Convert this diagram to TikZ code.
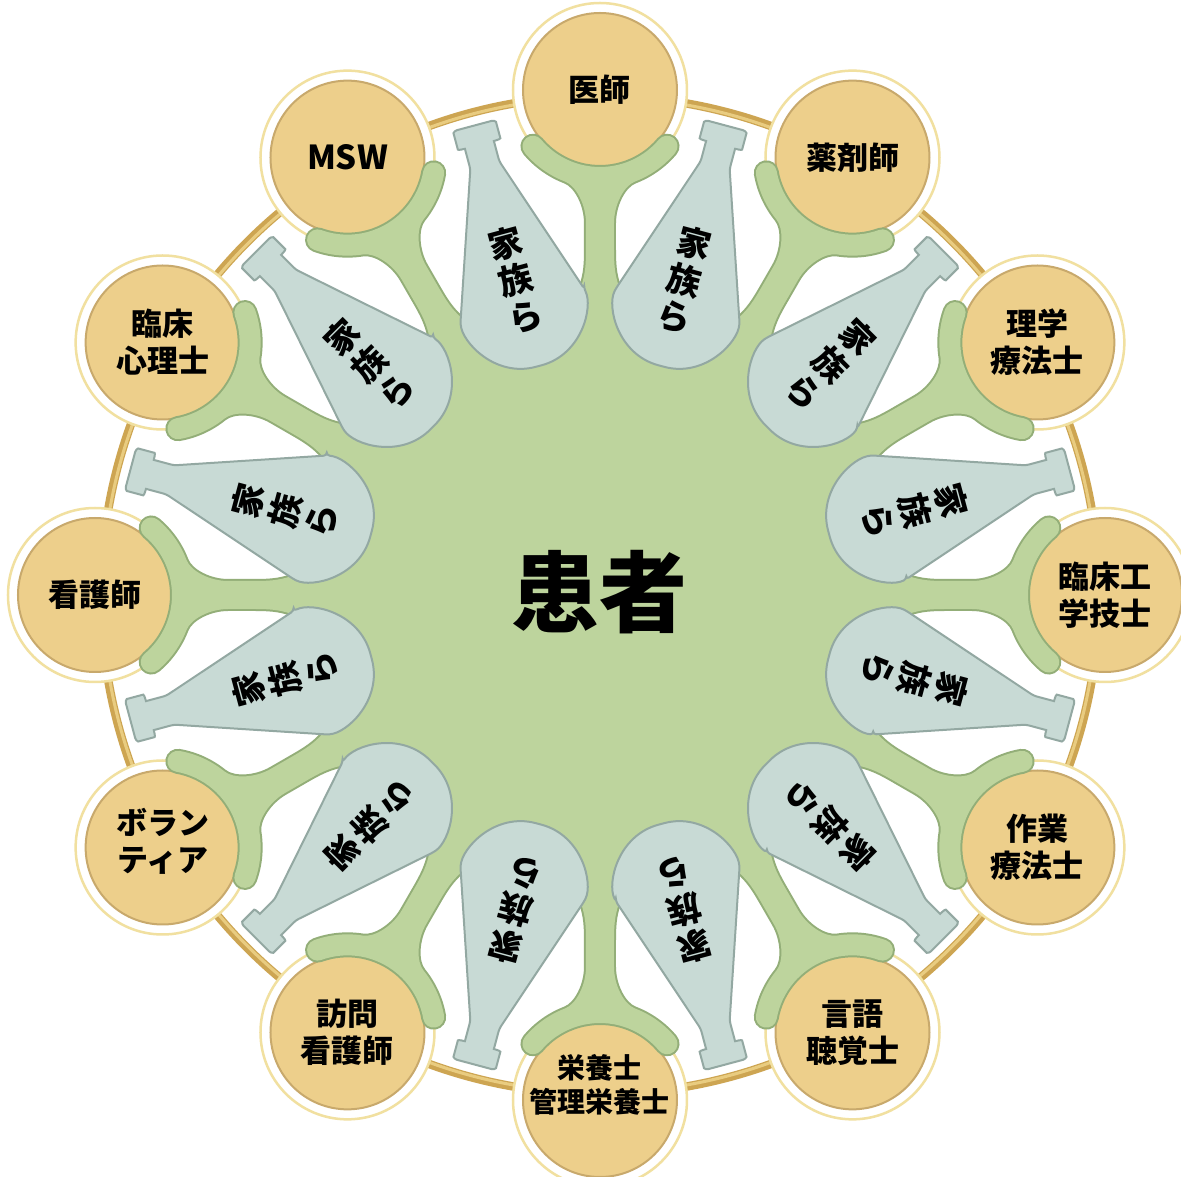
\documentclass[tikz,border=0pt]{standalone}
\usepackage{fontspec}
\newfontfamily\jp{Noto Sans CJK JP}
\definecolor{tanfill}{HTML}{EDCF8B}
\definecolor{tanedge}{HTML}{C8A96C}
\definecolor{paleyellow}{HTML}{F1E0A0}
\definecolor{ringdark}{HTML}{CDA552}
\definecolor{ringlight}{HTML}{E9CC80}
\definecolor{greenfill}{HTML}{BDD49D}
\definecolor{greenedge}{HTML}{93AE78}
\definecolor{bottlefill}{HTML}{C8DAD5}
\definecolor{bottleedge}{HTML}{93A8A2}
\tikzset{
  proftext/.style={font=\jp\bfseries\fontsize{31}{37}\selectfont, align=center, inner sep=0pt, text=black},
  famtext/.style={font=\jp\bfseries\fontsize{34}{38}\selectfont, align=center, inner sep=0pt, text=black},
  profcircle/.style={circle, minimum size=154pt, inner sep=0pt, fill=tanfill, draw=tanedge, line width=2pt},
  bottleshape/.style={fill=bottlefill, draw=bottleedge, line width=2pt, rounded corners=3pt}
}
\begin{document}
\begin{tikzpicture}[x=1pt,y=1pt]
\useasboundingbox (-600,-582) rectangle (581,595);
\fill[white] (-600,-582) rectangle (581,595);
% golden ring
\draw[ringdark, line width=8.5pt] (0,0) circle[radius=499];
\draw[ringlight, line width=3pt] (0,0) circle[radius=497.5];
% profession circles
\foreach \i in {0,...,11} {
  \pgfmathsetmacro\a{90-30*\i}
  \fill[white, draw=paleyellow, line width=2.5pt] (\a:505) circle[radius=87];
  \node[profcircle] (p\i) at (\a:505) {};
}
% green arms: outline pass
\foreach \i in {0,...,11} {
  \pgfmathsetmacro\a{90-30*\i}
  \draw[greenedge, line width=4pt, rotate=\a] (0,-45) -- (270,-45) .. controls (300,-16) and (320,-14) .. (345,-14) -- (372,-14) .. controls (390,-14) and (409.2,-23.8) .. (413.45,-34.96) arc[start angle=200.9, end angle=230, radius=98] arc[start angle=230, end angle=410, radius=10.5] arc[start angle=230, end angle=130, radius=77] arc[start angle=310, end angle=490, radius=10.5] arc[start angle=130, end angle=159.1, radius=98] .. controls (409.2,23.8) and (390,14) .. (372,14) -- (345,14) .. controls (320,14) and (300,16) .. (270,45) -- (0,45) -- cycle;
}
% green fill pass
\fill[greenfill] (0,0) circle[radius=300];
\foreach \i in {0,...,11} {
  \pgfmathsetmacro\a{90-30*\i}
  \fill[greenfill, rotate=\a] (0,-45) -- (270,-45) .. controls (300,-16) and (320,-14) .. (345,-14) -- (372,-14) .. controls (390,-14) and (409.2,-23.8) .. (413.45,-34.96) arc[start angle=200.9, end angle=230, radius=98] arc[start angle=230, end angle=410, radius=10.5] arc[start angle=230, end angle=130, radius=77] arc[start angle=310, end angle=490, radius=10.5] arc[start angle=130, end angle=159.1, radius=98] .. controls (409.2,23.8) and (390,14) .. (372,14) -- (345,14) .. controls (320,14) and (300,16) .. (270,45) -- (0,45) -- cycle;
}
% family bottles
\foreach \i in {0,...,11} {
  \pgfmathsetmacro\b{105-30*\i}
  \path[bottleshape, rotate=\b] (300,-64) -- (445,-15) -- (463,-15) .. controls (466,-15) and (466,-22) .. (470,-22) -- (481,-22) .. controls (485,-22) and (486,-19) .. (486,-15) -- (486,15) .. controls (486,19) and (485,22) .. (481,22) -- (470,22) .. controls (466,22) and (466,15) .. (463,15) -- (445,15) -- (300,64) .. controls (280,68) and (237,45) .. (237,0) .. controls (237,-45) and (280,-68) .. (300,-64) -- cycle;
  \pgfmathsetmacro\r{\b-90}
  \node[famtext, rotate=\r] (f\i) at (\b:326) {家\\族\\ら};
}
% texts in circles
\node[proftext] (t0) at (p0) {医師};
\node[proftext] (t1) at (p1) {薬剤師};
\node[proftext] (t2) at (p2) {理学\\療法士};
\node[proftext] (t3) at (p3) {臨床工\\学技士};
\node[proftext] (t4) at (p4) {作業\\療法士};
\node[proftext] (t5) at (p5) {言語\\聴覚士};
\node[proftext, font=\jp\bfseries\fontsize{28}{34}\selectfont, yshift=15pt] (t6) at (p6) {栄養士\\管理栄養士};
\node[proftext] (t7) at (p7) {訪問\\看護師};
\node[proftext, yshift=6pt] (t8) at (p8) {ボラン\\ティア};
\node[proftext] (t9) at (p9) {看護師};
\node[proftext] (t10) at (p10) {臨床\\心理士};
\node[proftext, font=\jp\bfseries\fontsize{33}{37}\selectfont] (t11) at (p11) {MSW};
% patient
\node[font=\jp\bfseries\fontsize{88}{96}\selectfont, inner sep=0pt] (patient) at (0,3) {患者};
\end{tikzpicture}
\end{document}
